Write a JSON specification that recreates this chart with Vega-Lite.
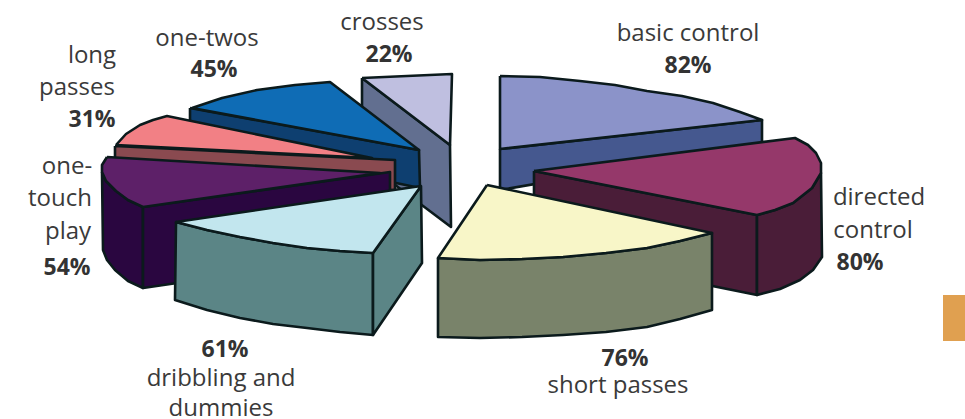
{"$schema":"https://vega.github.io/schema/vega-lite/v6.json","width":965,"height":419,"padding":0,"autosize":{"type":"none"},"background":"#ffffff","config":{"view":{"stroke":null}},
"datasets":{"faces":[
{"face":"crosses side","n":1,"x":362,"y":78},{"face":"crosses side","n":2,"x":450,"y":145},{"face":"crosses side","n":3,"x":451,"y":227},{"face":"crosses side","n":4,"x":362,"y":160},{"face":"crosses side","n":5,"x":362,"y":78},
{"face":"crosses top","n":1,"x":362,"y":78},{"face":"crosses top","n":2,"x":452,"y":74},{"face":"crosses top","n":3,"x":450,"y":145},{"face":"crosses top","n":4,"x":362,"y":78},
{"face":"one-twos side","n":1,"x":190,"y":108},{"face":"one-twos side","n":2,"x":419,"y":150},{"face":"one-twos side","n":3,"x":420,"y":188},{"face":"one-twos side","n":4,"x":190,"y":140},{"face":"one-twos side","n":5,"x":190,"y":108},
{"face":"one-twos top","n":1,"x":192,"y":108},{"face":"one-twos top","n":2,"x":222,"y":98},{"face":"one-twos top","n":3,"x":257,"y":90},{"face":"one-twos top","n":4,"x":295,"y":85},{"face":"one-twos top","n":5,"x":330,"y":82},{"face":"one-twos top","n":6,"x":419,"y":150},{"face":"one-twos top","n":7,"x":192,"y":108},
{"face":"long passes side","n":1,"x":115,"y":146},{"face":"long passes side","n":2,"x":395,"y":160},{"face":"long passes side","n":3,"x":395,"y":190},{"face":"long passes side","n":4,"x":115,"y":180},{"face":"long passes side","n":5,"x":115,"y":146},
{"face":"long passes top","n":1,"x":116,"y":145},{"face":"long passes top","n":2,"x":126,"y":134},{"face":"long passes top","n":3,"x":140,"y":125},{"face":"long passes top","n":4,"x":153,"y":120},{"face":"long passes top","n":5,"x":167,"y":116},{"face":"long passes top","n":6,"x":372,"y":158},{"face":"long passes top","n":7,"x":116,"y":145},
{"face":"one-touch back","n":1,"x":102,"y":172},{"face":"one-touch back","n":2,"x":106,"y":181},{"face":"one-touch back","n":3,"x":116,"y":191},{"face":"one-touch back","n":4,"x":128,"y":200},{"face":"one-touch back","n":5,"x":143,"y":207},{"face":"one-touch back","n":6,"x":143,"y":288},{"face":"one-touch back","n":7,"x":128,"y":281},{"face":"one-touch back","n":8,"x":115,"y":270},{"face":"one-touch back","n":9,"x":107,"y":260},{"face":"one-touch back","n":10,"x":103,"y":250},{"face":"one-touch back","n":11,"x":102,"y":172},
{"face":"one-touch side","n":1,"x":143,"y":207},{"face":"one-touch side","n":2,"x":390,"y":172},{"face":"one-touch side","n":3,"x":390,"y":252},{"face":"one-touch side","n":4,"x":143,"y":288},{"face":"one-touch side","n":5,"x":143,"y":207},
{"face":"one-touch top","n":1,"x":107,"y":157},{"face":"one-touch top","n":2,"x":380,"y":173},{"face":"one-touch top","n":3,"x":143,"y":207},{"face":"one-touch top","n":4,"x":128,"y":200},{"face":"one-touch top","n":5,"x":116,"y":191},{"face":"one-touch top","n":6,"x":106,"y":181},{"face":"one-touch top","n":7,"x":102,"y":172},{"face":"one-touch top","n":8,"x":102,"y":165},{"face":"one-touch top","n":9,"x":107,"y":157},
{"face":"dribbling front","n":1,"x":176,"y":222},{"face":"dribbling front","n":2,"x":207,"y":230},{"face":"dribbling front","n":3,"x":240,"y":237},{"face":"dribbling front","n":4,"x":273,"y":243},{"face":"dribbling front","n":5,"x":307,"y":248},{"face":"dribbling front","n":6,"x":340,"y":251},{"face":"dribbling front","n":7,"x":373,"y":253},{"face":"dribbling front","n":8,"x":373,"y":335},{"face":"dribbling front","n":9,"x":340,"y":332},{"face":"dribbling front","n":10,"x":307,"y":328},{"face":"dribbling front","n":11,"x":273,"y":324},{"face":"dribbling front","n":12,"x":240,"y":318},{"face":"dribbling front","n":13,"x":207,"y":310},{"face":"dribbling front","n":14,"x":175,"y":300},{"face":"dribbling front","n":15,"x":176,"y":222},
{"face":"dribbling side","n":1,"x":373,"y":253},{"face":"dribbling side","n":2,"x":421,"y":186},{"face":"dribbling side","n":3,"x":422,"y":263},{"face":"dribbling side","n":4,"x":373,"y":335},{"face":"dribbling side","n":5,"x":373,"y":253},
{"face":"dribbling top","n":1,"x":421,"y":186},{"face":"dribbling top","n":2,"x":373,"y":253},{"face":"dribbling top","n":3,"x":340,"y":251},{"face":"dribbling top","n":4,"x":307,"y":248},{"face":"dribbling top","n":5,"x":273,"y":243},{"face":"dribbling top","n":6,"x":240,"y":237},{"face":"dribbling top","n":7,"x":207,"y":230},{"face":"dribbling top","n":8,"x":176,"y":222},{"face":"dribbling top","n":9,"x":421,"y":186},
{"face":"basic side","n":1,"x":500,"y":149},{"face":"basic side","n":2,"x":762,"y":120},{"face":"basic side","n":3,"x":762,"y":145},{"face":"basic side","n":4,"x":500,"y":190},{"face":"basic side","n":5,"x":500,"y":149},
{"face":"basic top","n":1,"x":500,"y":76},{"face":"basic top","n":2,"x":540,"y":77},{"face":"basic top","n":3,"x":580,"y":81},{"face":"basic top","n":4,"x":615,"y":85},{"face":"basic top","n":5,"x":647,"y":91},{"face":"basic top","n":6,"x":682,"y":96},{"face":"basic top","n":7,"x":713,"y":103},{"face":"basic top","n":8,"x":740,"y":112},{"face":"basic top","n":9,"x":762,"y":120},{"face":"basic top","n":10,"x":500,"y":149},{"face":"basic top","n":11,"x":500,"y":76},
{"face":"directed front","n":1,"x":534,"y":171},{"face":"directed front","n":2,"x":757,"y":215},{"face":"directed front","n":3,"x":757,"y":295},{"face":"directed front","n":4,"x":534,"y":250},{"face":"directed front","n":5,"x":534,"y":171},
{"face":"directed side","n":1,"x":757,"y":215},{"face":"directed side","n":2,"x":775,"y":210},{"face":"directed side","n":3,"x":793,"y":203},{"face":"directed side","n":4,"x":812,"y":188},{"face":"directed side","n":5,"x":821,"y":173},{"face":"directed side","n":6,"x":822,"y":257},{"face":"directed side","n":7,"x":813,"y":270},{"face":"directed side","n":8,"x":800,"y":280},{"face":"directed side","n":9,"x":780,"y":289},{"face":"directed side","n":10,"x":757,"y":295},{"face":"directed side","n":11,"x":757,"y":215},
{"face":"directed top","n":1,"x":534,"y":171},{"face":"directed top","n":2,"x":795,"y":138},{"face":"directed top","n":3,"x":808,"y":145},{"face":"directed top","n":4,"x":816,"y":153},{"face":"directed top","n":5,"x":821,"y":163},{"face":"directed top","n":6,"x":821,"y":173},{"face":"directed top","n":7,"x":812,"y":188},{"face":"directed top","n":8,"x":793,"y":203},{"face":"directed top","n":9,"x":775,"y":210},{"face":"directed top","n":10,"x":757,"y":215},{"face":"directed top","n":11,"x":534,"y":171},
{"face":"short side","n":1,"x":438,"y":258},{"face":"short side","n":2,"x":480,"y":260},{"face":"short side","n":3,"x":522,"y":259},{"face":"short side","n":4,"x":563,"y":257},{"face":"short side","n":5,"x":606,"y":253},{"face":"short side","n":6,"x":647,"y":248},{"face":"short side","n":7,"x":680,"y":241},{"face":"short side","n":8,"x":712,"y":233},{"face":"short side","n":9,"x":712,"y":310},{"face":"short side","n":10,"x":680,"y":319},{"face":"short side","n":11,"x":647,"y":327},{"face":"short side","n":12,"x":606,"y":332},{"face":"short side","n":13,"x":563,"y":335},{"face":"short side","n":14,"x":522,"y":337},{"face":"short side","n":15,"x":480,"y":338},{"face":"short side","n":16,"x":438,"y":337},{"face":"short side","n":17,"x":438,"y":258},
{"face":"short top","n":1,"x":487,"y":185},{"face":"short top","n":2,"x":712,"y":233},{"face":"short top","n":3,"x":680,"y":241},{"face":"short top","n":4,"x":647,"y":248},{"face":"short top","n":5,"x":606,"y":253},{"face":"short top","n":6,"x":563,"y":257},{"face":"short top","n":7,"x":522,"y":259},{"face":"short top","n":8,"x":480,"y":260},{"face":"short top","n":9,"x":438,"y":258},{"face":"short top","n":10,"x":487,"y":185}
],
"labels":[
{"t":"crosses","x":382,"y":23},{"t":"basic control","x":688,"y":34},{"t":"directed","x":879,"y":198},{"t":"control","x":873,"y":231},{"t":"short passes","x":618,"y":386},{"t":"dribbling and","x":221,"y":379},{"t":"dummies","x":221,"y":409},{"t":"one-twos","x":207,"y":39},{"t":"long","x":92,"y":56},{"t":"passes","x":77,"y":88},{"t":"one-","x":67,"y":167},{"t":"touch","x":60,"y":199},{"t":"play","x":68,"y":232}],
"pct":[
{"t":"22%","x":389,"y":55},{"t":"82%","x":688,"y":66},{"t":"80%","x":860,"y":263},{"t":"76%","x":625,"y":359},{"t":"61%","x":225,"y":350},{"t":"45%","x":214,"y":70},{"t":"31%","x":92,"y":120},{"t":"54%","x":67,"y":268}],
"box":[{"x":943,"x2":965,"y":295,"y2":341}]},
"encoding":{"x":{"field":"x","type":"quantitative","axis":null,"scale":{"domain":[0,965],"nice":false,"zero":false}},"y":{"field":"y","type":"quantitative","axis":null,"scale":{"domain":[419,0],"nice":false,"zero":false}}},
"layer":[
{"data":{"name":"faces"},"mark":{"type":"line","stroke":"#0b1a1c","strokeWidth":2.6,"strokeJoin":"round"},"encoding":{"order":{"field":"n","type":"quantitative"},"detail":{"field":"face"},"fill":{"field":"face","type":"nominal","legend":null,"scale":{
"domain":["crosses side","crosses top","one-twos side","one-twos top","long passes side","long passes top","one-touch back","one-touch side","one-touch top","dribbling front","dribbling side","dribbling top","basic side","basic top","directed front","directed side","directed top","short side","short top"],
"range":["#626f90","#bfbfe0","#0e3f70","#0f6cb5","#8a4a50","#f28085","#2a0640","#2a0640","#5d2068","#5b8586","#5b8586","#c2e6ee","#45588f","#8b93c9","#4a1d38","#4a1d38","#95386a","#79836a","#f8f6c8"]}}}},
{"data":{"name":"box"},"mark":{"type":"rect","color":"#e0a050"},"encoding":{"x2":{"field":"x2"},"y2":{"field":"y2"}}},
{"data":{"name":"labels"},"mark":{"type":"text","font":"Open Sans","fontSize":24,"color":"#3a3a3a","align":"center","baseline":"middle"},"encoding":{"text":{"field":"t"}}},
{"data":{"name":"pct"},"mark":{"type":"text","font":"Open Sans","fontWeight":"bold","fontSize":23,"color":"#333333","align":"center","baseline":"middle"},"encoding":{"text":{"field":"t"}}}
]}
